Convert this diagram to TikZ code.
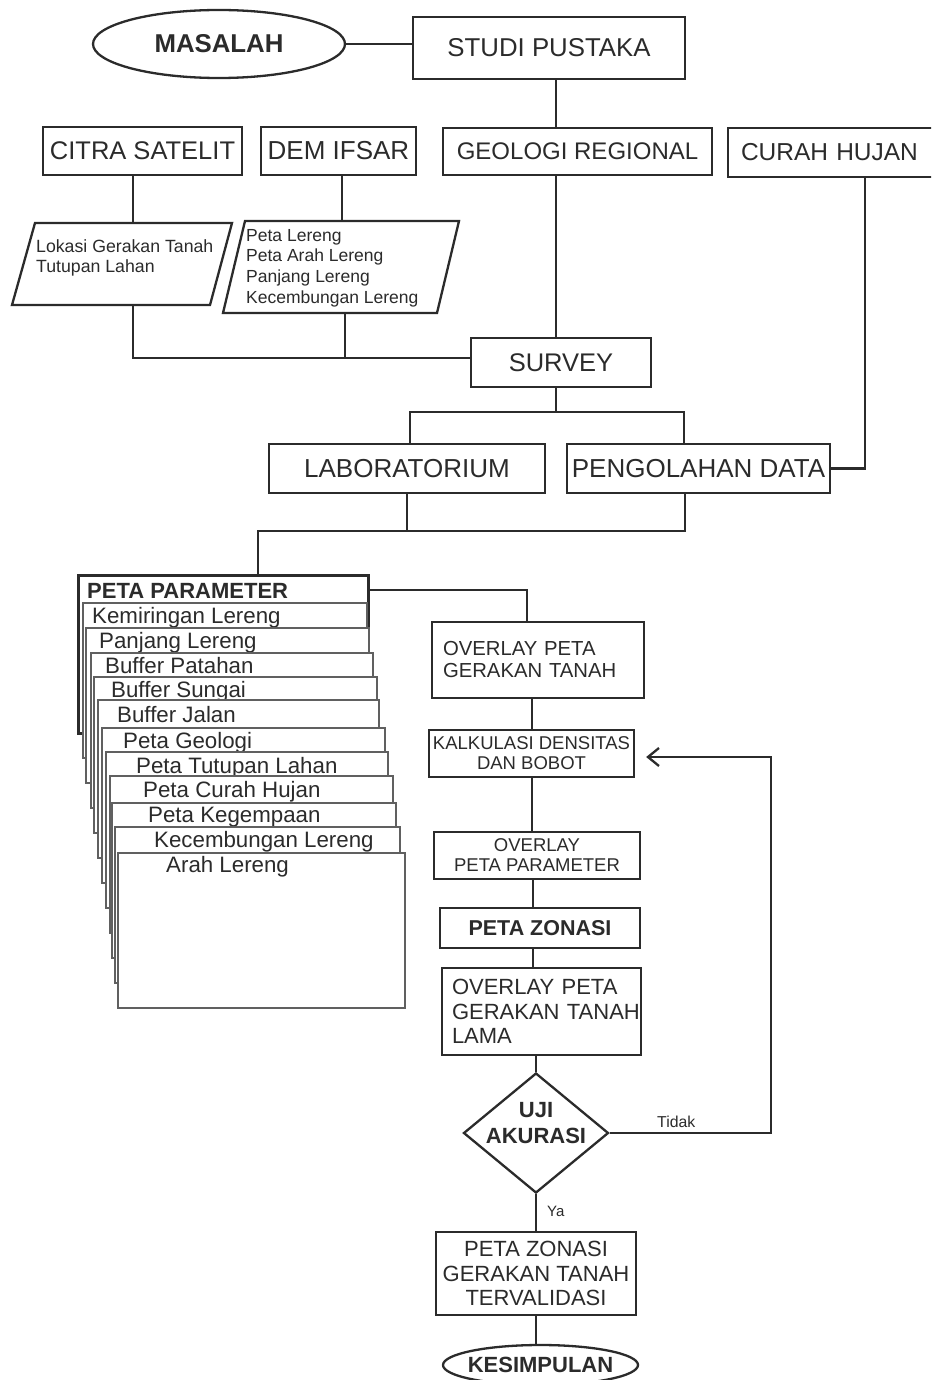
\documentclass[tikz,border=0pt]{standalone}
\usepackage{fontspec}
\setmainfont{Liberation Sans}
\usetikzlibrary{shapes.geometric,arrows.meta}
\definecolor{ink}{HTML}{2B2B2B}
\newcommand{\myfs}[2]{\fontsize{#1}{#2}\selectfont}
\begin{document}
\begin{tikzpicture}[x=1pt,y=-1pt,
  box/.style={draw=ink, line width=2.3pt, inner sep=0pt, text=ink, align=center, fill=white},
  conn/.style={draw=ink, line width=2.3pt},
  txt/.style={text=ink, inner sep=0pt},
  pagebox/.style={draw=ink!75, line width=1.1pt, fill=white},
  frame/.style={draw=ink, line width=2.6pt, inner sep=0pt}]
\useasboundingbox (0,0) rectangle (931,1380);
\clip (0,0) rectangle (931,1380);
\fill[white] (0,0) rectangle (931,1380);

% helper coordinates for connector columns / rows
\coordinate (x133) at (133,0);
\coordinate (x342) at (342,0);
\coordinate (x410) at (410,0);
\coordinate (x684) at (684,0);
\coordinate (x685) at (685,0);
\coordinate (x258) at (258,0);
\coordinate (x527) at (527,0);
\coordinate (x532) at (532,0);
\coordinate (x533) at (533,0);
\coordinate (x556) at (556,0);
\coordinate (x865) at (865,0);
\coordinate (jn) at (0,358);
\coordinate (br) at (0,412);
\coordinate (mg) at (0,531);
\coordinate (yp) at (0,590);

% top
\node[box, ellipse, minimum width=252, minimum height=68, font=\bfseries\myfs{25.8}{30}] (masalah) at (219,44) {MASALAH};
\node[box, minimum width=272, minimum height=62, font=\myfs{25.8}{30}] (studi) at (549,48) {STUDI PUSTAKA};
\node[box, minimum width=199, minimum height=48, font=\myfs{25.5}{30}] (citra) at (142.5,151) {CITRA SATELIT};
\node[box, minimum width=155, minimum height=48, font=\myfs{26}{30}] (dem) at (338.5,151) {DEM IFSAR};
\node[box, minimum width=269, minimum height=47, font=\myfs{24}{29}] (geo) at (577.5,151.5) {GEOLOGI REGIONAL};
\node[box, minimum width=212, minimum height=49, text width=186, inner xsep=13, align=left, font=\myfs{24.5}{29}] (curah) at (834,152.5) {CURAH HUJAN};

% parallelograms
\draw[conn, fill=white] (35,223) -- (232,223) -- (210,305) -- (12,305) -- cycle;
\node[txt, anchor=north west, align=left, font=\myfs{17.7}{20}] (lok) at (36,239) {Lokasi Gerakan Tanah\\Tutupan Lahan};
\draw[conn, fill=white] (245,221) -- (459,221) -- (437,313) -- (223,313) -- cycle;
\node[txt, anchor=north west, align=left, font=\myfs{17.5}{20.7}] (lereng) at (246,229) {Peta Lereng\\Peta Arah Lereng\\Panjang Lereng\\Kecembungan Lereng};
\coordinate (lokT) at (133,223);
\coordinate (lokB) at (133,305);
\coordinate (lerT) at (342,221);
\coordinate (lerB) at (345,313);

\node[box, minimum width=180, minimum height=49, font=\myfs{25.5}{30}] (survey) at (561,362.5) {SURVEY};
\node[box, minimum width=276, minimum height=49, font=\myfs{26}{30}] (lab) at (407,468.5) {LABORATORIUM};
\node[box, minimum width=263, minimum height=49, font=\myfs{26}{30}] (peng) at (698.5,468.5) {PENGOLAHAN DATA};

% parameter stack
\node[frame, minimum width=290, minimum height=158, anchor=north west] (param) at (77,574) {};
\node[txt, anchor=base west, font=\bfseries\myfs{22}{25}] (paramhead) at (87,598) {PETA PARAMETER};
\foreach \l/\t/\r/\b/\tx/\bl/\ptext [count=\i] in {
  83/603/367/758/92/623/Kemiringan Lereng,
  86/628/369/783/99/648/Panjang Lereng,
  91/653/373/808/105/673/Buffer Patahan,
  94/677/377/833/111/697/Buffer Sungai,
  98/700/379/858/117/722/Buffer Jalan,
  102/728/385/883/123/748/Peta Geologi,
  106/752/388/908/136/773/Peta Tutupan Lahan,
  110/776/393/933/143/797/Peta Curah Hujan,
  112/803/396/958/148/822/Peta Kegempaan,
  115/827/400/983/154/847/Kecembungan Lereng,
  118/853/405/1008/166/872/Arah Lereng}
{
  \draw[pagebox] (\l,\t) rectangle (\r,\b);
  \node[txt, anchor=base west, font=\myfs{22.3}{25}] (page\i) at (\tx,\bl) {\ptext};
}

% right column
\node[box, minimum width=212, minimum height=76, text width=190, inner xsep=11, align=left, font=\myfs{20.3}{22}] (ov1) at (538,660) {OVERLAY PETA\\GERAKAN TANAH};
\node[box, minimum width=205, minimum height=47, font=\myfs{18.5}{20}] (kalk) at (531.5,753.5) {KALKULASI DENSITAS\\DAN BOBOT};
\node[box, minimum width=206, minimum height=47, font=\myfs{18.5}{20}] (ov2) at (537,855.5) {OVERLAY\\PETA PARAMETER};
\node[box, minimum width=200, minimum height=40, font=\bfseries\myfs{21.5}{24}] (zon) at (540,928) {PETA ZONASI};
\node[box, minimum width=199, minimum height=87, text width=179, inner xsep=10, align=left, font=\myfs{22}{24.5}] (ov3) at (541.5,1011.5) {\mbox{OVERLAY PETA}\\\mbox{GERAKAN TANAH}\\LAMA};
\node[box, diamond, minimum width=145, minimum height=120] (uji) at (536,1133) {};
\node[txt, align=center, font=\bfseries\myfs{22}{26}] (ujitxt) at (536,1123) {UJI\\AKURASI};
\node[box, minimum width=200, minimum height=83, font=\myfs{22}{24.5}] (terv) at (536,1273.5) {PETA ZONASI\\GERAKAN TANAH\\TERVALIDASI};
\node[box, ellipse, minimum width=195, minimum height=40, font=\bfseries\myfs{22}{25}] (kes) at (540.5,1365) {\makebox[0pt]{KESIMPULAN}};

\coordinate (loopB) at (771,1133);
\coordinate (loopT) at (771,757);

% connectors
\draw[conn] (masalah.east) -- (masalah.east -| studi.west);
\draw[conn] (studi.south -| x556) -- (geo.north -| x556);
\draw[conn] (geo.south -| x556) -- (survey.north -| x556);
\draw[conn] (citra.south -| x133) -- (lokT);
\draw[conn] (dem.south -| x342) -- (lerT);
\draw[conn] (lokB) |- (survey.west |- jn);
\draw[conn] (lerB) -- (lerB |- jn);
\draw[conn] (survey.south -| x556) -- (x556 |- br);
\draw[conn] (lab.north -| x410) -- (x410 |- br) -- (x684 |- br) -- (peng.north -| x684);
\draw[conn] (curah.south -| x865) |- (peng.east);
\draw[conn] (lab.south) -- (lab.south |- mg);
\draw[conn] (peng.south -| x685) -- (x685 |- mg) -- (x258 |- mg) -- (param.north -| x258);
\draw[conn] (param.east |- yp) -| (ov1.north -| x527);
\draw[conn] (ov1.south -| x532) -- (kalk.north -| x532);
\draw[conn] (kalk.south -| x532) -- (ov2.north -| x532);
\draw[conn] (ov2.south -| x533) -- (zon.north -| x533);
\draw[conn] (zon.south -| x533) -- (ov3.north -| x533);
\draw[conn] (ov3.south -| uji.north) -- (uji.north);
\draw[conn] (uji.south) -- (terv.north);
\draw[conn] (terv.south) -- (terv.south |- kes.north);
\draw[conn, -{Straight Barb[length=11pt,width=18pt]}, shorten >=11pt] (uji.east) -- (loopB) -- (loopT) -- (kalk.east |- loopT);

\node[txt, anchor=base west, font=\myfs{15.8}{18}] (tidak) at (657,1127) {Tidak};
\node[txt, anchor=base west, font=\myfs{15}{18}] (ya) at (547,1216) {Ya};
\end{tikzpicture}
\end{document}
